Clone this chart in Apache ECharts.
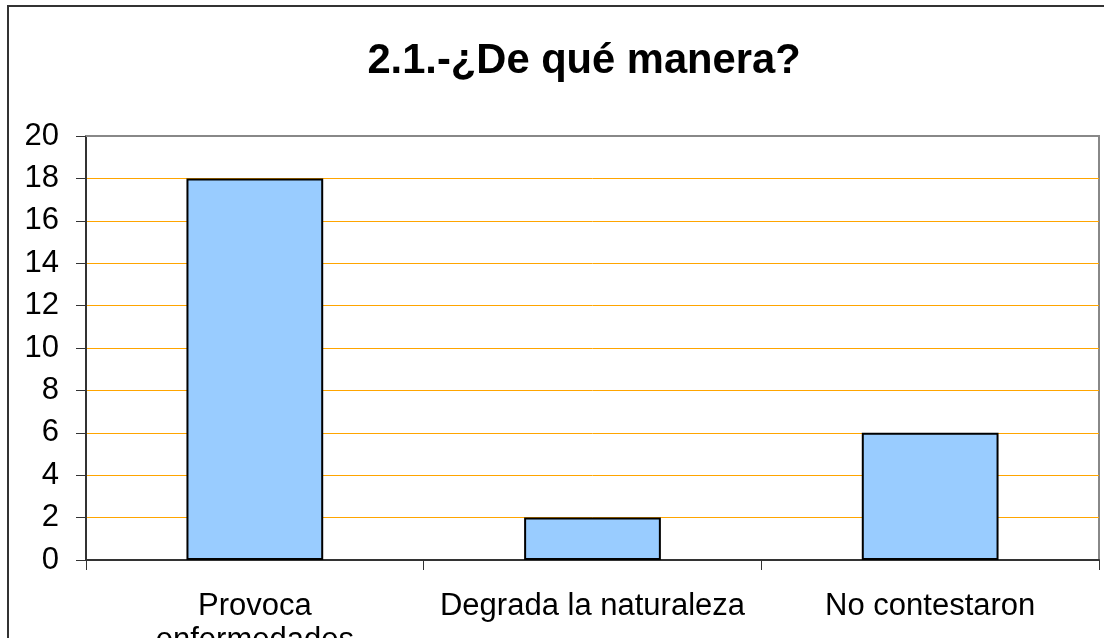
<!DOCTYPE html>
<html>
<head>
<meta charset="utf-8">
<script src="https://cdn.jsdelivr.net/npm/echarts@6/dist/echarts.min.js"></script>
<style>
  html, body { margin: 0; padding: 0; background: #fff; }
  #chart { width: 1104px; height: 638px; }
</style>
</head>
<body>
<div id="chart"></div>
<script>
// chart data
const categories = ['Provoca\nenfermedades', 'Degrada la naturaleza', 'No contestaron']
const values = [18, 2, 6]

const chart = echarts.init(document.getElementById('chart'))

const font = 'Liberation Sans, Arial, sans-serif'

chart.setOption({
  backgroundColor: '#ffffff',
  textStyle: { fontFamily: font },
  title: {
    text: '2.1.-¿De qué manera?',
    left: 579,
    top: 36,
    textAlign: 'center',
    textStyle: { fontSize: 41.7, fontWeight: 'bold', color: '#000', fontFamily: font }
  },
  graphic: [{
    type: 'rect',
    shape: { x: 8, y: 6, width: 1200, height: 700 },
    style: { fill: 'none', stroke: '#333', lineWidth: 2 },
    silent: true
  }],
  grid: {
    left: 86,
    top: 136,
    right: 5,
    bottom: 78,
    outerBoundsMode: 'none',
    containLabel: false,
    show: true,
    borderColor: '#888888',
    borderWidth: 2,
    backgroundColor: 'transparent'
  },
  xAxis: [{
    type: 'category',
    data: categories,
    boundaryGap: true,
    axisLine: { lineStyle: { color: '#333', width: 2 } },
    axisTick: { show: true, alignWithLabel: false, length: 10, lineStyle: { color: '#333', width: 1 } },
    axisLabel: {
      interval: 0,
      margin: 29,
      fontSize: 31,
      lineHeight: 34,
      color: '#000',
      fontFamily: font
    }
  }, {
    // gray top border of the plot area
    type: 'category',
    position: 'top',
    data: categories,
    axisLine: { show: true, lineStyle: { color: '#888888', width: 2 } },
    axisTick: { show: false },
    axisLabel: { show: false },
    splitLine: { show: false }
  }],
  yAxis: {
    type: 'value',
    min: 0,
    max: 20,
    interval: 2,
    axisLine: { show: true, lineStyle: { color: '#333', width: 2 } },
    axisTick: { show: true, length: 10, lineStyle: { color: '#333', width: 1 } },
    axisLabel: {
      margin: 27,
      fontSize: 31,
      color: '#000',
      fontFamily: font
    },
    splitLine: { show: true, lineStyle: { color: '#FFA500', width: 1 } }
  },
  series: [{
    type: 'bar',
    data: values,
    barWidth: '40.5%',
    itemStyle: { color: '#99CCFF', borderColor: '#000', borderWidth: 2 }
  }]
})
</script>
</body>
</html>
